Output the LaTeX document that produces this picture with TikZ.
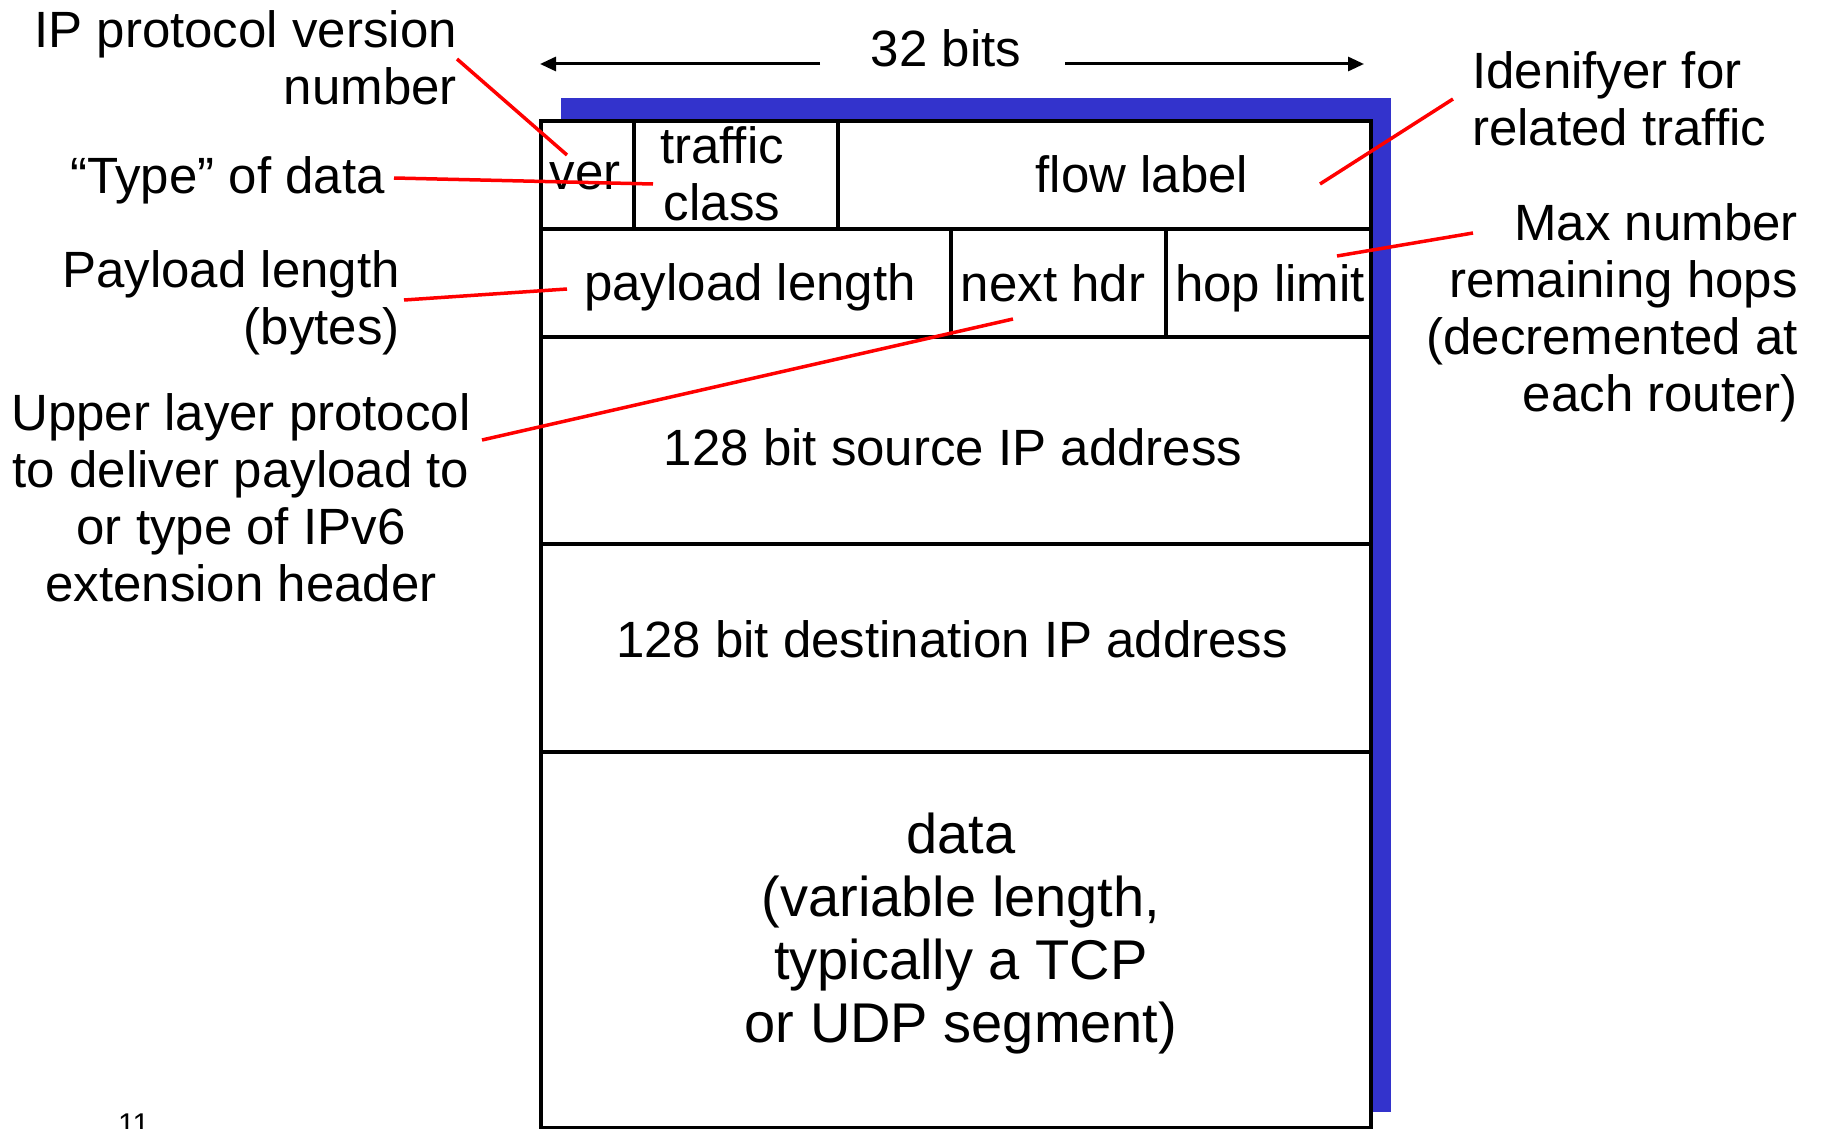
\documentclass[tikz,border=0pt]{standalone}
\usepackage{fontspec}
\setmainfont{Liberation Sans}
\usetikzlibrary{arrows.meta}
\definecolor{shadowblue}{RGB}{51,51,204}
\definecolor{callred}{RGB}{255,0,0}
\begin{document}
\begin{tikzpicture}[x=1pt,y=-1pt,
  lbl/.style={font=\fontsize{51}{57}\selectfont, inner sep=0pt},
  datalbl/.style={font=\fontsize{56}{63}\selectfont, inner sep=0pt},
  frame/.style={draw=black, line width=3.5pt},
  callout/.style={draw=callred, line width=3.5pt},
  widtharrow/.style={line width=3pt, -{Triangle[length=16pt,width=14pt]}}]

\useasboundingbox (0,0) rectangle (1825,1129);

% header frame with its blue backing
\fill[shadowblue] (561,98) rectangle (1391,1112);
\filldraw[fill=white, frame] (541,121) rectangle (1371,1128);
\draw[frame] (541,229) -- (1371,229);
\draw[frame] (541,337) -- (1371,337);
\draw[frame] (541,544) -- (1371,544);
\draw[frame] (541,752) -- (1371,752);
\draw[frame] (634,121) -- (634,229);
\draw[frame] (838,121) -- (838,229);
\draw[frame] (951,229) -- (951,337);
\draw[frame] (1166,229) -- (1166,337);

% field names
\node[lbl, anchor=base] (ver) at (585,189) {ver};
\node[lbl, anchor=north, align=center] (tclass) at (722,126) {traffic\\class};
\node[lbl, anchor=base] (flow) at (1142,192) {flow label};
\node[lbl, anchor=base] (plen) at (750,300) {payload length};
\node[lbl, anchor=base] (nhdr) at (1053,301) {next hdr};
\node[lbl, anchor=base] (hlim) at (1270,301) {hop limit};
\node[lbl, anchor=base] (src) at (953,465) {128 bit source IP address};
\node[lbl, anchor=base] (dst) at (952,657) {128 bit destination IP address};
\node[datalbl, anchor=north, align=center] (data) at (961,813)
  {data\\(variable length,\\typically a TCP\\or UDP segment)};

% header width
\node[lbl, anchor=base] (bits) at (946,67) {32 bits};
\coordinate (bitsL) at (820,64);
\coordinate (bitsR) at (1065,64);
\coordinate (edgeL) at (540,64);
\coordinate (edgeR) at (1364,64);
\draw[widtharrow] (bitsL) -- (edgeL);
\draw[widtharrow] (bitsR) -- (edgeR);

% annotations
\node[lbl, anchor=north east, align=right] (nver) at (457,10) {IP protocol version\\number};
\node[lbl, anchor=base east] (ntype) at (385,193) {“Type” of data};
\node[lbl, anchor=north east, align=right] (nplen) at (400,250) {Payload length\\(bytes)};
\node[lbl, anchor=north, align=center] (nnext) at (241,393)
  {Upper layer protocol\\to deliver payload to\\or type of IPv6\\extension header};
\node[lbl, anchor=north west, align=left] (nflow) at (1472,51) {Idenifyer for\\related traffic};
\node[lbl, anchor=north east, align=right] (nhop) at (1798,203)
  {Max number\\remaining hops\\(decremented at\hspace*{17pt}\\each router)};

% callout lines
\coordinate (nverA) at (457,59);   \coordinate (verB) at (567,155);
\coordinate (ntypeA) at (394,178); \coordinate (tclassB) at (653,184);
\coordinate (nplenA) at (404,300); \coordinate (plenB) at (567,289);
\coordinate (nnextA) at (482,440); \coordinate (nhdrB) at (1013,319);
\coordinate (nflowA) at (1453,99); \coordinate (flowB) at (1320,184);
\coordinate (nhopA) at (1473,233); \coordinate (hlimB) at (1337,256);
\draw[callout] (nverA) -- (verB);
\draw[callout] (ntypeA) -- (tclassB);
\draw[callout] (nplenA) -- (plenB);
\draw[callout] (nnextA) -- (nhdrB);
\draw[callout] (nflowA) -- (flowB);
\draw[callout] (nhopA) -- (hlimB);

% slide number at the lower page edge
\node[font=\fontsize{30}{34}\selectfont, inner sep=0pt, anchor=base west] (pageno) at (118,1134) {11};
\end{tikzpicture}
\end{document}
